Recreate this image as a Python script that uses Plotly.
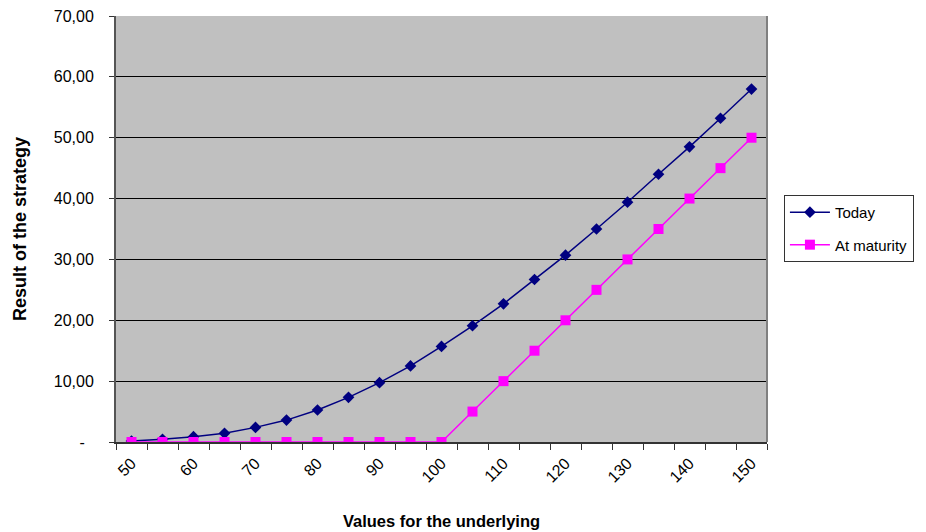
import plotly.graph_objects as go

# Underlying values and strategy results
underlying = [50, 55, 60, 65, 70, 75, 80, 85, 90, 95, 100,
              105, 110, 115, 120, 125, 130, 135, 140, 145, 150]
today = [0.16, 0.44, 0.87, 1.43, 2.4, 3.6, 5.26, 7.34, 9.75, 12.5, 15.7,
         19.1, 22.7, 26.7, 30.7, 35.0, 39.4, 44.0, 48.5, 53.2, 58.0]
at_maturity = [0, 0, 0, 0, 0, 0, 0, 0, 0, 0, 0,
               5, 10, 15, 20, 25, 30, 35, 40, 45, 50]

x_labels = [50, 60, 70, 80, 90, 100, 110, 120, 130, 140, 150]
y_ticks = [0, 10, 20, 30, 40, 50, 60, 70]
y_text = ["-\u00a0\u00a0", "10,00", "20,00", "30,00",
          "40,00", "50,00", "60,00", "70,00"]

font_family = "Liberation Sans, Arial, sans-serif"

fig = go.Figure()
fig.add_trace(go.Scatter(
    x=underlying, y=today, name="Today", mode="lines+markers",
    line=dict(color="#000080", width=1.5),
    marker=dict(symbol="diamond", size=9, color="#000080"),
    legendgroup="a",
))
fig.add_trace(go.Scatter(
    x=underlying, y=at_maturity, name="At maturity", mode="lines+markers",
    line=dict(color="#FF00FF", width=1.5),
    marker=dict(symbol="square", size=10, color="#FF00FF"),
    legendgroup="b",
))

fig.update_layout(
    width=926, height=532,
    margin=dict(l=116, r=156, t=16, b=90),
    paper_bgcolor="white",
    plot_bgcolor="#C0C0C0",
    font=dict(family=font_family, size=16, color="black"),
    showlegend=True,
    legend=dict(
        x=1.026, y=0.58, xanchor="left", yanchor="top",
        bgcolor="white", bordercolor="#333333", borderwidth=1,
        font=dict(size=15), tracegroupgap=10, traceorder="grouped",
        itemwidth=40,
    ),
    xaxis=dict(
        range=[47.5, 152.5],
        tickvals=x_labels, ticktext=[str(v) for v in x_labels],
        tickangle=-45, ticks="", showgrid=False,
        ticklabelstandoff=4, automargin=False,
        showline=True, linecolor="#333333", linewidth=1.5, mirror=False,
        minor=dict(tickvals=[47.5 + 5 * i for i in range(22)],
                   ticks="outside", ticklen=6, tickcolor="#333333",
                   showgrid=False),
        title=dict(text="<b>Values for the underlying</b>", standoff=31,
                   font=dict(size=16.5)),
        zeroline=False,
    ),
    yaxis=dict(
        range=[0, 70],
        tickvals=y_ticks, ticktext=y_text,
        ticks="outside", ticklen=5, tickcolor="#333333",
        ticklabelstandoff=12, automargin=False,
        showgrid=True, gridcolor="black", gridwidth=1,
        showline=True, linecolor="#555555", linewidth=2,
        zeroline=False,
        title=dict(text="<b>Result of the strategy</b>", standoff=22,
                   font=dict(size=18)),
    ),
)

# right-hand border of the plot area
fig.add_shape(type="line", xref="paper", yref="paper", x0=1, x1=1, y0=0, y1=1,
              line=dict(color="#808080", width=2))

fig.write_html("out.html")
